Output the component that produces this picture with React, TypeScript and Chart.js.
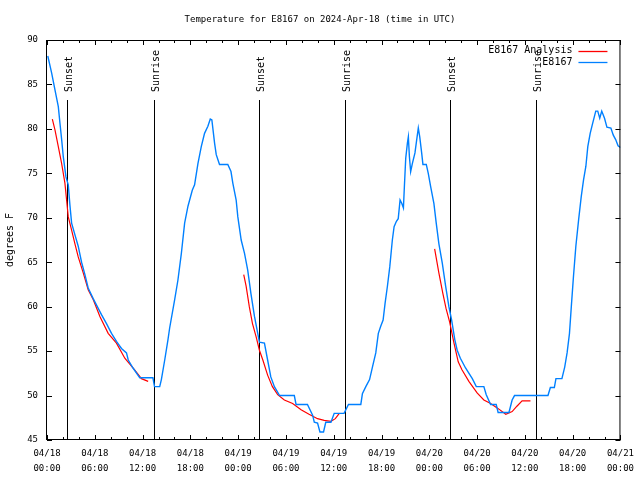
import React, { useEffect, useRef } from 'react';
import { Chart, registerables } from 'chart.js';

Chart.register(...registerables);

const TITLE = 'Temperature for E8167 on 2024-Apr-18 (time in UTC)';
const Y_TITLE = 'degrees F';
const ANALYSIS_LABEL = 'E8167 Analysis';
const STATION_LABEL = 'E8167';
const START_MONTH = '04';
const START_DAY = 18;
const X_MIN = 0;
const X_MAX = 72;
const X_MAJOR_STEP = 6;
const X_MINOR_STEP = 2;
const Y_MIN = 45;
const Y_MAX = 90;
const Y_STEP = 5;

// hours since 04/18 00:00 UTC
const sunsetHours = [2.54, 26.6, 50.63];
const sunriseHours = [13.44, 37.36, 61.4];

const stationHours = [
  0.1, 0.58, 1.0, 1.42, 1.63, 1.84, 2.04, 2.38, 2.67, 2.88, 3.09, 3.5, 3.92, 4.34, 4.76, 5.17, 5.8, 6.43, 6.84,
  7.47, 8.1, 8.72, 9.35, 9.98, 10.2, 10.8, 11.65, 13.3, 13.5, 14.15, 14.36, 14.78, 15.19, 15.4, 16.03, 16.44,
  16.87, 17.28, 17.7, 18.24, 18.53, 18.95, 19.37, 19.78, 20.2, 20.5, 20.7, 21.04, 21.25, 21.66, 22.7, 23.1,
  23.33, 23.75, 23.96, 24.38, 24.8, 25.2, 25.6, 26.05, 26.46, 26.67, 27.3, 27.7, 28.1, 28.55, 29.2, 31.05,
  31.27, 32.7, 33.35, 33.56, 33.97, 34.27, 34.72, 35.0, 35.65, 36.06, 37.3, 37.85, 39.4, 39.6, 40.03, 40.5,
  40.86, 41.28, 41.6, 41.9, 42.2, 42.45, 42.74, 43.04, 43.36, 43.58, 43.87, 44.1, 44.33, 44.55, 44.75, 44.87,
  45.04, 45.25, 45.37, 45.5, 45.66, 45.87, 46.2, 46.42, 46.62, 46.8, 47.04, 47.2, 47.62, 47.87, 48.17, 48.58,
  48.87, 49.2, 49.63, 50.05, 50.46, 50.8, 51.2, 51.5, 51.9, 52.55, 53.4, 53.9, 54.85, 55.15, 55.7, 56.4, 56.64,
  58.0, 58.4, 58.7, 62.9, 63.2, 63.7, 63.9, 64.65, 65.0, 65.3, 65.6, 65.83, 66.1, 66.4, 66.75, 67.08, 67.37,
  67.66, 67.9, 68.2, 68.5, 68.9, 69.15, 69.4, 69.65, 70.0, 70.3, 70.8, 71.1, 71.4, 71.7, 72.0,
];
const stationTemps = [
  88.2, 86.3, 84.4, 82.5, 80.6, 78.8, 76.9, 74.6, 73.7, 71.4, 69.4, 68.1, 66.8, 65.0, 63.6, 62.1, 60.9, 59.8, 59.1,
  58.1, 57.0, 56.1, 55.3, 54.8, 54.0, 53.1, 52.0, 52.0, 51.0, 51.0, 51.8, 54.0, 56.3, 57.6, 60.8, 63.0,
  66.0, 69.4, 71.3, 73.1, 73.7, 76.1, 78.0, 79.5, 80.3, 81.1, 81.0, 78.4, 77.1, 76.0, 76.0, 75.2,
  73.9, 72.0, 70.1, 67.5, 66.0, 64.1, 61.5, 58.9, 57.0, 56.0, 55.9, 54.0, 52.1, 51.0, 50.0, 50.0,
  49.0, 49.0, 47.8, 47.0, 46.9, 45.9, 45.9, 47.0, 47.0, 48.0, 48.0, 49.0, 49.0, 50.2, 51.0, 51.8,
  53.2, 54.8, 57.0, 57.8, 58.5, 60.4, 62.3, 64.5, 67.5, 69.0, 69.6, 69.9, 72.0, 71.6, 71.1, 73.5,
  76.7, 78.4, 79.1, 76.9, 75.2, 76.1, 77.3, 78.8, 80.1, 79.1, 77.3, 76.0, 76.0, 75.0, 73.5, 71.6,
  69.4, 67.1, 64.9, 62.3, 60.0, 58.5, 56.3, 55.1, 54.2, 53.1, 51.9, 51.0, 51.0, 50.1, 49.0, 49.0, 48.1,
  48.1, 49.5, 50.0, 50.0, 50.9, 50.9, 51.9, 51.9, 53.2, 54.8, 57.0, 60.0, 63.4, 66.8, 69.8, 72.4, 74.3,
  75.8, 78.0, 79.5, 80.6, 82.0, 82.0, 81.2, 82.0, 81.2, 80.2, 80.1, 79.3, 78.8, 78.1, 77.9,
];

// null temperature = break between analysis runs
const analysisHours = [
  0.67, 1.0, 1.42, 1.84, 2.25, 2.46, 2.67, 3.09, 3.5, 3.92, 4.55, 5.17, 5.8, 6.64, 7.68, 8.72, 9.77, 11.0, 11.86, 12.7,
  18.0,
  24.7, 25.0, 25.4, 25.8, 26.26, 26.67, 27.1, 27.7, 28.3, 28.96, 29.8, 30.84, 31.9, 32.9, 33.97, 34.8, 35.65, 36.2, 36.7,
  42.0,
  48.67, 49.2, 49.7, 50.1, 50.55, 51.1, 51.63, 52.1, 52.97, 54.0, 54.85, 55.7, 56.7, 57.6, 58.4, 59.0, 59.65, 60.7,
];
const analysisTemps = [
  81.1, 79.9, 78.0, 76.1, 73.9, 72.0, 70.1, 68.6, 67.1, 65.6, 63.8, 61.9, 60.8, 58.9, 57.0, 55.9, 54.2, 52.9, 51.9, 51.6,
  null,
  63.6, 62.3, 60.0, 58.1, 56.6, 55.1, 54.0, 52.3, 51.0, 50.1, 49.5, 49.1, 48.4, 47.9, 47.4, 47.2, 47.1, 47.4, 48.0,
  null,
  66.5, 63.8, 61.5, 59.8, 58.3, 55.9, 53.8, 52.9, 51.6, 50.3, 49.5, 49.1, 48.5, 47.9, 48.2, 48.8, 49.4, 49.4,
];

const FONT = 'DejaVu Sans Mono';
const RED = 'rgb(255,0,0)';
const BLUE = 'rgb(0,128,255)';

const pad2 = (n: number) => (n < 10 ? '0' + n : '' + n);

const gnuplotPlugin = {
  id: 'gnuplotDecor',
  beforeDatasetsDraw(chart: any) {
    const { ctx, chartArea, scales } = chart;
    const { top, bottom } = chartArea;
    const h = bottom - top;
    ctx.save();
    ctx.strokeStyle = '#000';
    ctx.fillStyle = '#000';
    ctx.lineWidth = 1;

    // title, centred on the whole canvas
    ctx.font = `9px "${FONT}"`;
    ctx.textAlign = 'center';
    ctx.textBaseline = 'middle';
    ctx.fillText(TITLE, chart.width / 2, 19.5);

    ctx.font = `10px "${FONT}"`;
    const draw = (hours: number[], label: string) => {
      hours.forEach((t) => {
        const px = Math.round(scales.x.getPixelForValue(t)) + 0.5;
        ctx.beginPath();
        ctx.moveTo(px, bottom);
        ctx.lineTo(px, top + 0.15 * h);
        ctx.stroke();
        ctx.save();
        ctx.translate(px + 1.5, top + 0.13 * h);
        ctx.rotate(-Math.PI / 2);
        ctx.textAlign = 'left';
        ctx.textBaseline = 'middle';
        ctx.fillText(label, 0, 0);
        ctx.restore();
      });
    };
    draw(sunsetHours, 'Sunset');
    draw(sunriseHours, 'Sunrise');
    ctx.restore();
  },
  afterDatasetsDraw(chart: any) {
    const { ctx, chartArea, scales } = chart;
    const { left, right, top, bottom } = chartArea;
    ctx.save();
    ctx.strokeStyle = '#000';
    ctx.lineWidth = 1;
    ctx.beginPath();
    for (let v = Y_MIN; v <= Y_MAX; v += Y_STEP) {
      const py = Math.round(scales.y.getPixelForValue(v)) + 0.5;
      ctx.moveTo(left, py);
      ctx.lineTo(left + 5, py);
      ctx.moveTo(right, py);
      ctx.lineTo(right - 5, py);
    }
    for (let t = X_MIN; t <= X_MAX; t += X_MINOR_STEP) {
      const px = Math.round(scales.x.getPixelForValue(t)) + 0.5;
      const len = t % X_MAJOR_STEP === 0 ? 5 : 3;
      ctx.moveTo(px, bottom);
      ctx.lineTo(px, bottom - len);
      ctx.moveTo(px, top);
      ctx.lineTo(px, top + len);
    }
    ctx.stroke();
    ctx.strokeRect(left - 0.5, top + 0.5, right - left, bottom - top - 1);

    // legend (gnuplot style: text right-aligned, sample to the right)
    ctx.font = `10px "${FONT}"`;
    ctx.textAlign = 'right';
    ctx.textBaseline = 'middle';
    ctx.fillStyle = '#000';
    const rows: [string, string][] = [
      [ANALYSIS_LABEL, RED],
      [STATION_LABEL, BLUE],
    ];
    rows.forEach(([label, color], i) => {
      const ry = top + 10.5 + i * 11.5;
      ctx.fillText(label, right - 48, ry);
      ctx.strokeStyle = color;
      ctx.lineWidth = 1.3;
      ctx.beginPath();
      ctx.moveTo(right - 42, Math.round(ry) + 0.5);
      ctx.lineTo(right - 13, Math.round(ry) + 0.5);
      ctx.stroke();
    });
    ctx.restore();
  },
};

export default function App() {
  const canvasRef = useRef<HTMLCanvasElement | null>(null);

  useEffect(() => {
    if (!canvasRef.current) return;
    const stationData = stationHours.map((t, i) => ({ x: t, y: stationTemps[i] }));
    const analysisData = analysisHours.map((t, i) => ({ x: t, y: analysisTemps[i] }));

    const chart = new Chart(canvasRef.current, {
      type: 'line',
      data: {
        datasets: [
          {
            label: STATION_LABEL,
            data: stationData,
            borderColor: BLUE,
            backgroundColor: BLUE,
            borderWidth: 1.4,
            pointRadius: 0,
            tension: 0,
            fill: false,
          },
          {
            label: ANALYSIS_LABEL,
            data: analysisData as any,
            borderColor: RED,
            backgroundColor: RED,
            borderWidth: 1.2,
            pointRadius: 0,
            tension: 0,
            fill: false,
            spanGaps: false,
          },
        ],
      },
      options: {
        animation: false,
        responsive: false,
        devicePixelRatio: 1,
        layout: { padding: { left: 0, right: 18, top: 40, bottom: 0 } },
        plugins: {
          legend: { display: false },
          tooltip: { enabled: false },
          title: { display: false },
        },
        scales: {
          x: {
            type: 'linear',
            min: X_MIN,
            max: X_MAX,
            grid: { display: false, drawTicks: false },
            border: { display: false },
            ticks: {
              stepSize: X_MAJOR_STEP,
              autoSkip: false,
              maxRotation: 0,
              minRotation: 0,
              padding: 6,
              color: '#000',
              font: { family: FONT, size: 9, lineHeight: '15px' as any },
              callback: (value: any) => {
                const v = Number(value);
                const day = START_DAY + Math.floor(v / 24);
                const hour = v % 24;
                return [`${START_MONTH}/${day}`, `${pad2(hour)}:00`];
              },
            },
            afterFit: (scale: any) => {
              scale.height = 40;
            },
          },
          y: {
            type: 'linear',
            min: Y_MIN,
            max: Y_MAX,
            grid: { display: false, drawTicks: false },
            border: { display: false },
            ticks: {
              stepSize: Y_STEP,
              padding: 9,
              color: '#000',
              font: { family: FONT, size: 9 },
            },
            title: {
              display: true,
              text: Y_TITLE,
              color: '#000',
              font: { family: FONT, size: 10 },
              padding: { top: 4, bottom: 0 },
            },
            afterFit: (scale: any) => {
              scale.width = 47;
            },
          },
        },
      },
      plugins: [gnuplotPlugin],
    });
    return () => chart.destroy();
  }, []);

  return (
    <div style={{ position: 'absolute', left: 0, top: 0, width: 640, height: 480, background: '#fff' }}>
      <canvas ref={canvasRef} width={640} height={480} />
    </div>
  );
}
